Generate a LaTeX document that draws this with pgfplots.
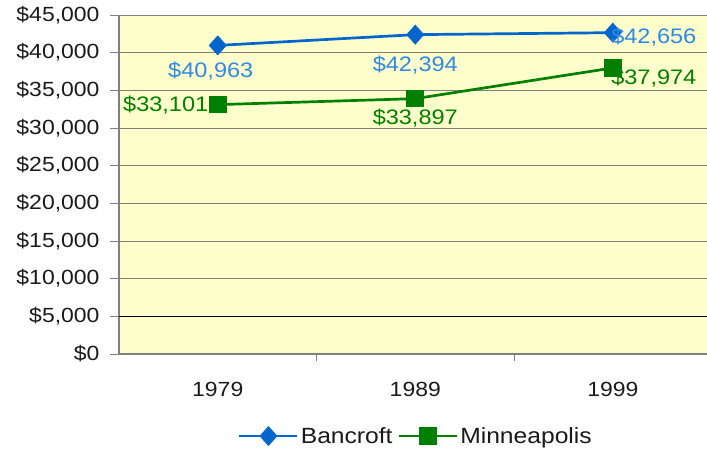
\documentclass[border=0pt]{standalone}
\usepackage{fontspec}
\setmainfont{Liberation Sans}[FakeStretch=1.12]
\usepackage{pgfplots}
\pgfplotsset{compat=1.18}
\usepackage{pgfplotstable}

\definecolor{plotbg}{HTML}{FFFFCC}
\definecolor{bancroft}{HTML}{0066CC}
\definecolor{bancroftlab}{HTML}{2E8AE6}
\definecolor{mpls}{HTML}{008000}
\definecolor{gridgray}{HTML}{808080}
\definecolor{txt}{HTML}{1A1A1A}

% median household income
\pgfplotstableread{
x y
0 40963
1 42394
2 42656
}\bancroft
\pgfplotstableread{
x y
0 33101
1 33897
2 37974
}\minneapolis

\pgfplotsset{
  valuelabels/.style={
    draw=none, mark=none, forget plot,
    nodes near coords={\$\pgfmathprintnumber{\pgfplotspointmeta}},
    point meta=y,
    every node near coord/.append style={font=\fontsize{21}{24}\selectfont, text=#1},
  },
}

\begin{document}
\begin{tikzpicture}
\useasboundingbox (-119pt,-96pt) rectangle (588pt,354pt);
\begin{axis}[
  at={(0,0)}, anchor=south west,
  scale only axis, width=588pt, height=339pt,
  xmin=-0.5, xmax=2.477, ymin=0, ymax=45000,
  clip=false,
  axis background/.style={fill=plotbg},
  axis x line*=bottom, axis y line*=left,
  axis line style={gridgray, line width=1.2pt},
  tick align=outside,
  major tick length=9pt,
  tick style={gridgray, line width=1pt},
  xtick={0,1,2}, xticklabels={1979,1989,1999},
  major x tick style={draw=none},
  extra x ticks={0.5,1.5}, extra x tick labels={},
  extra x tick style={major x tick style={draw=gridgray}, major tick length=7pt},
  ytick={0,5000,...,45000},
  scaled y ticks=false,
  ymajorgrids,
  grid style={gridgray, line width=1pt},
  extra y ticks={5000}, extra y tick labels={},
  extra y tick style={grid style={black, line width=1.4pt}},
  /pgf/number format/.cd, fixed, precision=0, 1000 sep={,}, assume math mode=true,
  /pgfplots/.cd,
  yticklabel={\$\pgfmathprintnumber{\tick}},
  tick label style={font=\fontsize{20.5}{24}\selectfont, text=txt},
  y tick label style={xshift=-7pt},
  x tick label style={yshift=-16pt},
  legend style={at={(0.505,-0.242)}, anchor=center, draw=none, fill=none,
    font=\fontsize{22}{24}\selectfont, text=txt, legend columns=2,
    /tikz/every even column/.append style={column sep=3pt}},
  legend image code/.code={\draw[mark repeat=2,mark phase=2] plot coordinates {(0pt,0pt)(29pt,0pt)(58pt,0pt)};},
]
\addplot[bancroft, line width=2.7pt, mark=diamond*, mark size=8pt, mark options={xscale=1.2}]
  table[x=x, y=y] {\bancroft};
\addlegendentry{Bancroft}
\addplot[mpls, line width=2.7pt, mark=square*, mark size=7.5pt]
  table[x=x, y=y] {\minneapolis};
\addlegendentry{Minneapolis}
\addplot[valuelabels=bancroftlab,
  coordinate style/.condition={\coordindex==0}{anchor=north, xshift=-7pt, yshift=-13pt},
  coordinate style/.condition={\coordindex==1}{anchor=north, yshift=-18pt},
  coordinate style/.condition={\coordindex==2}{anchor=west, xshift=-5pt, yshift=-4pt}]
  table[x=x, y=y] {\bancroft};
\addplot[valuelabels=mpls,
  coordinate style/.condition={\coordindex==0}{anchor=east, xshift=-6pt},
  coordinate style/.condition={\coordindex==1}{anchor=north, yshift=-7pt},
  coordinate style/.condition={\coordindex==2}{anchor=west, xshift=-5pt, yshift=-10pt}]
  table[x=x, y=y] {\minneapolis};
\end{axis}
\end{tikzpicture}
\end{document}
